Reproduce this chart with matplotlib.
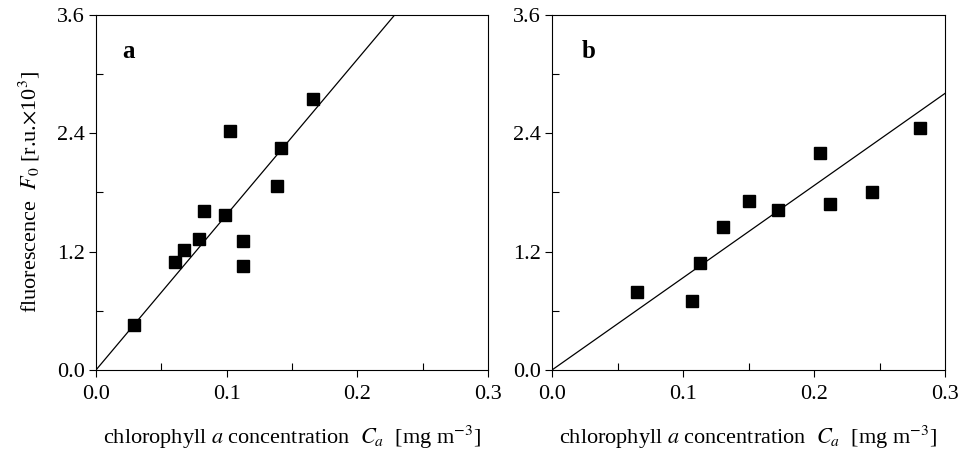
import matplotlib
matplotlib.use("Agg")
import matplotlib.pyplot as plt
import numpy as np
from matplotlib.ticker import MultipleLocator

plt.rcParams['font.family'] = ['Liberation Serif', 'DejaVu Serif']
plt.rcParams['mathtext.fontset'] = 'stix'

# Panel a data
xa = [0.0288, 0.0602, 0.0671, 0.0786, 0.0824, 0.0985, 0.1023, 0.1122, 0.1122, 0.1383, 0.1413, 0.1658]
ya = [0.456, 1.092, 1.217, 1.325, 1.613, 1.569, 2.424, 1.308, 1.051, 1.866, 2.248, 2.748]
slope_a = 15.75

# Panel b data
xb = [0.0645, 0.1066, 0.1128, 0.1304, 0.1504, 0.1726, 0.2049, 0.2125, 0.2445, 0.2808]
yb = [0.791, 0.696, 1.082, 1.450, 1.714, 1.623, 2.201, 1.684, 1.802, 2.451]
slope_b = 9.35

xticks = [0.0, 0.1, 0.2, 0.3]
yticks = [0.0, 1.2, 2.4, 3.6]
panel_labels = ['a', 'b']

fig = plt.figure(figsize=(9.6, 4.49), dpi=100)
ax_a = fig.add_axes([0.1, 0.176, 0.4083, 0.7906])
ax_b = fig.add_axes([0.575, 0.176, 0.4094, 0.7906])

xlabel = r'chlorophyll $a$ concentration  $C_a$  [mg m$^{-3}$]'
ylabel = r'fluorescence  $F_0$ [r.u.$\times$10$^3$]'

for ax, xs, ys, slope, lab, lx in [(ax_a, xa, ya, slope_a, panel_labels[0], 0.082),
                                    (ax_b, xb, yb, slope_b, panel_labels[1], 0.092)]:
    lxs = np.array([0.0, 0.3])
    ax.plot(lxs, slope * lxs, color='black', lw=0.9)
    ax.plot(xs, ys, 's', color='black', markersize=8.5)
    ax.set_xlim(0, 0.3)
    ax.set_ylim(0, 3.6)
    ax.set_xticks(xticks)
    ax.set_xticklabels([f'{v:.1f}' for v in xticks])
    ax.set_yticks(yticks)
    ax.set_yticklabels([f'{v:.1f}' for v in yticks])
    ax.xaxis.set_minor_locator(MultipleLocator(0.05))
    ax.yaxis.set_minor_locator(MultipleLocator(0.6))
    ax.tick_params(which='both', top=False, right=False, labelsize=16, width=0.8)
    ax.tick_params(which='major', direction='out', length=5, pad=3)
    ax.tick_params(axis='x', which='major', pad=6)
    ax.tick_params(which='minor', direction='in', length=5)
    for s in ax.spines.values():
        s.set_linewidth(0.8)
    ax.set_xlabel(xlabel, fontsize=16, labelpad=14)
    ax.text(lx, 0.896, lab, transform=ax.transAxes, fontsize=18, fontweight='bold',
            ha='center', va='center')

ax_a.set_ylabel(ylabel, fontsize=16, labelpad=11)

fig.savefig('out.png', dpi=100)
